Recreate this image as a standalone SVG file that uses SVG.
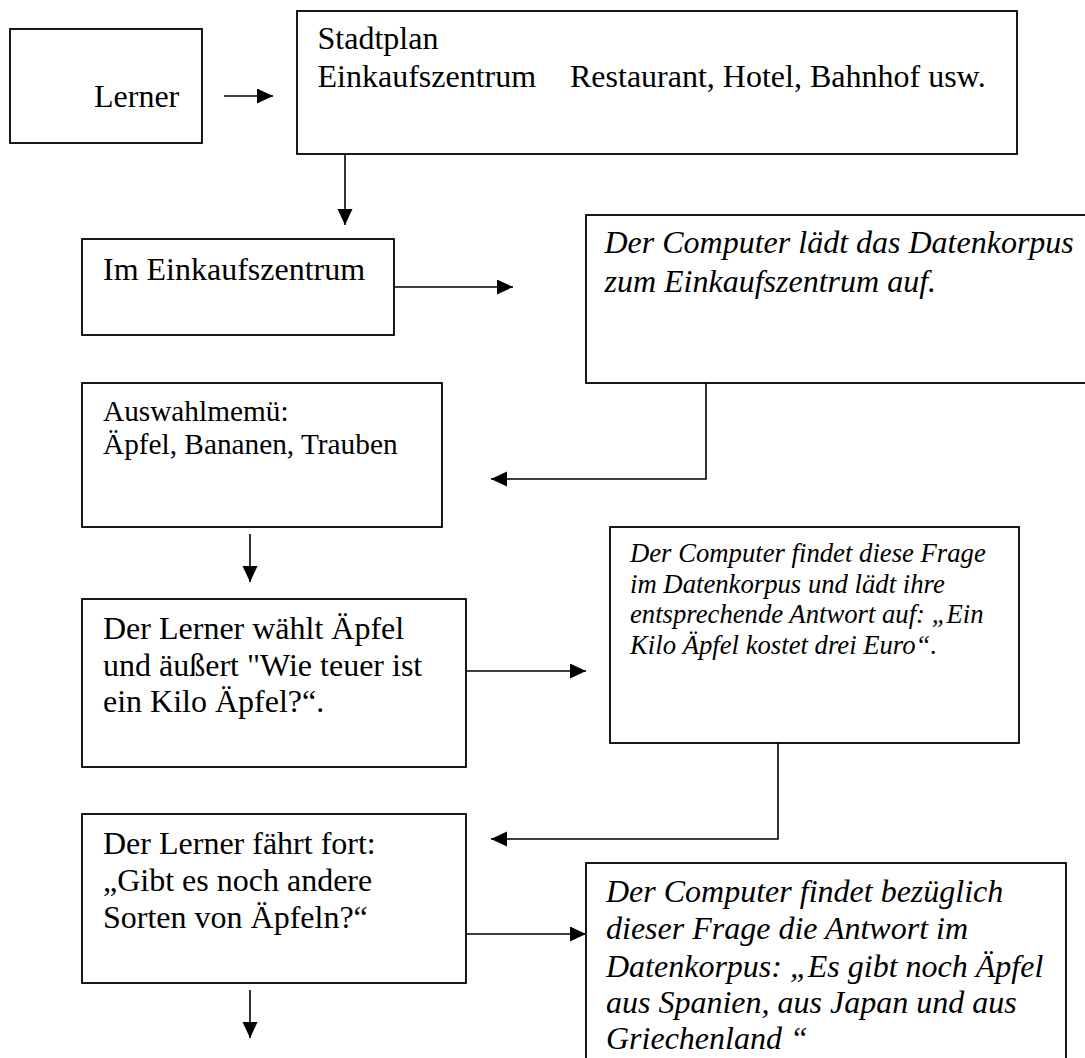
<svg xmlns="http://www.w3.org/2000/svg" width="1085" height="1058" viewBox="0 0 1085 1058">
  <style>
    .box { fill: #ffffff; stroke: #000000; stroke-width: 1.8; }
    .t { font-family: "Liberation Serif", "Times New Roman", serif; fill: #000000; }
    .big { font-size: 32px; }
    .mid { font-size: 29.3px; }
    .small { font-size: 26.7px; }
    .it { font-style: italic; }
    .conn { fill: none; stroke: #000000; stroke-width: 1.6; marker-end: url(#arrow); }
  </style>
  <defs>
    <marker id="arrow" markerUnits="userSpaceOnUse" markerWidth="16" markerHeight="16" refX="16" refY="7.5" orient="auto">
      <path d="M0,0 L16,7.5 L0,15 Z" fill="#000000"/>
    </marker>
  </defs>

  <rect width="1085" height="1058" fill="#ffffff"/>

  <g id="lerner">
    <rect class="box" x="10" y="29" width="192" height="114"/>
    <text class="t big" x="94" y="107">Lerner</text>
  </g>

  <g id="stadtplan">
    <rect class="box" x="297" y="11" width="720" height="143"/>
    <text class="t big" x="317.5" y="49">Stadtplan</text>
    <text class="t big" y="87"><tspan x="317.5">Einkaufszentrum</tspan><tspan x="570">Restaurant, Hotel, Bahnhof usw.</tspan></text>
  </g>

  <g id="im-einkaufszentrum">
    <rect class="box" x="82" y="239" width="312" height="96"/>
    <text class="t big" x="103" y="280">Im Einkaufszentrum</text>
  </g>

  <g id="computer-laedt">
    <rect class="box" x="586" y="215" width="504" height="168"/>
    <text class="t big it" x="604.5" y="253">Der Computer lädt das Datenkorpus</text>
    <text class="t big it" x="604.5" y="291.5">zum Einkaufszentrum auf.</text>
  </g>

  <g id="auswahlmenue">
    <rect class="box" x="82" y="383" width="360" height="144"/>
    <text class="t mid" x="103" y="421">Auswahlmemü:</text>
    <text class="t mid" x="103" y="454">Äpfel, Bananen, Trauben</text>
  </g>

  <g id="lerner-waehlt">
    <rect class="box" x="82" y="599" width="384" height="168"/>
    <text class="t big" x="103" y="639">Der Lerner wählt Äpfel</text>
    <text class="t big" x="103" y="676">und äußert "Wie teuer ist</text>
    <text class="t big" x="103" y="712">ein Kilo Äpfel?“.</text>
  </g>

  <g id="computer-findet">
    <rect class="box" x="610" y="527" width="409" height="216"/>
    <text class="t small it" x="630" y="562">Der Computer findet diese Frage</text>
    <text class="t small it" x="630" y="592.5">im Datenkorpus und lädt ihre</text>
    <text class="t small it" x="630" y="623">entsprechende Antwort auf: „Ein</text>
    <text class="t small it" x="630" y="653.5">Kilo Äpfel kostet drei Euro“.</text>
  </g>

  <g id="lerner-faehrt-fort">
    <rect class="box" x="82" y="814" width="384" height="169"/>
    <text class="t big" x="103" y="854">Der Lerner fährt fort:</text>
    <text class="t big" x="103" y="891">„Gibt es noch andere</text>
    <text class="t big" x="103" y="928">Sorten von Äpfeln?“</text>
  </g>

  <g id="computer-antwort">
    <rect class="box" x="586" y="863" width="480" height="210"/>
    <text class="t big it" x="606" y="902">Der Computer findet bezüglich</text>
    <text class="t big it" x="606" y="939">dieser Frage die Antwort im</text>
    <text class="t big it" x="606" y="976.5">Datenkorpus: „Es gibt noch Äpfel</text>
    <text class="t big it" x="606" y="1013">aus Spanien, aus Japan und aus</text>
    <text class="t big it" x="606" y="1048.5">Griechenland “</text>
  </g>

  <g id="connectors">
    <path class="conn" d="M224,96 H273"/>
    <path class="conn" d="M345,154 V225"/>
    <path class="conn" d="M394,287 H513"/>
    <path class="conn" d="M706,383 V479 H491"/>
    <path class="conn" d="M250,534 V582"/>
    <path class="conn" d="M466,671 H586"/>
    <path class="conn" d="M778,743 V839 H491"/>
    <path class="conn" d="M466,934 H586"/>
    <path class="conn" d="M250,990 V1038"/>
  </g>
</svg>
